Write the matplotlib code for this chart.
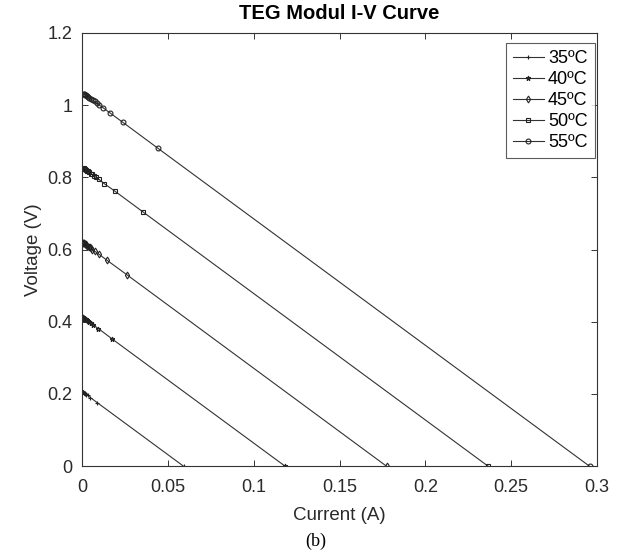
import matplotlib
matplotlib.use("Agg")
import matplotlib.pyplot as plt
from matplotlib.ticker import FuncFormatter

labels = ["35ºC", "40ºC", "45ºC", "50ºC", "55ºC"]

i35 = [0.00021, 0.00026, 0.00034, 0.00041, 0.00051, 0.00068, 0.00082, 0.00102, 0.00127, 0.00144, 0.00168, 0.0020, 0.0025, 0.0033, 0.0048, 0.0088, 0.0591]
v35 = [0.206, 0.206, 0.206, 0.206, 0.205, 0.205, 0.204, 0.203, 0.203, 0.202, 0.201, 0.200, 0.198, 0.196, 0.190, 0.176, 0.0]
i40 = [0.00041, 0.00052, 0.00068, 0.00082, 0.00103, 0.00136, 0.00163, 0.00204, 0.00253, 0.00288, 0.00335, 0.0040, 0.0050, 0.0065, 0.0095, 0.0176, 0.1183]
v40 = [0.412, 0.412, 0.412, 0.411, 0.410, 0.409, 0.408, 0.407, 0.405, 0.404, 0.402, 0.400, 0.397, 0.391, 0.381, 0.352, 0.0]
i45 = [0.00062, 0.00077, 0.00103, 0.00124, 0.00154, 0.00205, 0.00245, 0.00305, 0.00380, 0.00433, 0.00503, 0.0060, 0.0074, 0.0098, 0.0143, 0.0264, 0.1774]
v45 = [0.619, 0.618, 0.617, 0.617, 0.616, 0.614, 0.613, 0.610, 0.608, 0.606, 0.604, 0.600, 0.595, 0.587, 0.571, 0.529, 0.0]
i50 = [0.00082, 0.00103, 0.00137, 0.00165, 0.00206, 0.00273, 0.00326, 0.00407, 0.00506, 0.00577, 0.00670, 0.0080, 0.0099, 0.0130, 0.0190, 0.0352, 0.2366]
v50 = [0.825, 0.824, 0.823, 0.822, 0.821, 0.818, 0.817, 0.814, 0.810, 0.808, 0.805, 0.800, 0.794, 0.782, 0.762, 0.705, 0.0]
i55 = [0.00103, 0.00129, 0.00171, 0.00206, 0.00257, 0.00341, 0.00408, 0.00509, 0.00633, 0.00721, 0.00838, 0.0100, 0.0124, 0.0163, 0.0238, 0.0440, 0.2957]
v55 = [1.031, 1.030, 1.029, 1.028, 1.026, 1.023, 1.021, 1.017, 1.013, 1.010, 1.006, 1.000, 0.992, 0.978, 0.952, 0.881, 0.0]

x_ticks = [0, 0.05, 0.1, 0.15, 0.2, 0.25, 0.3]
y_ticks = [0, 0.2, 0.4, 0.6, 0.8, 1.0, 1.2]

plt.rcParams['font.family'] = ['Liberation Sans', 'DejaVu Sans']

fig = plt.figure(figsize=(6.27, 5.57), dpi=100)
ax = fig.add_axes([0.131, 0.163, 0.821, 0.778])

markers = ['+', '*', 'd', 's', 'o']
series = [(i35, v35), (i40, v40), (i45, v45), (i50, v50), (i55, v55)]
for (xs, ys), m, lab in zip(series, markers, labels):
    ax.plot(xs, ys, color='#333333', linewidth=0.8, marker=m, markersize=3.5,
            markerfacecolor='none', markeredgecolor='#222222', markeredgewidth=0.8,
            label=lab)

ax.set_xlim(0, 0.3)
ax.set_ylim(0, 1.2)
ax.set_xticks(x_ticks)
ax.set_yticks(y_ticks)
fmt = FuncFormatter(lambda v, p: ('%g' % round(v, 3)))
ax.xaxis.set_major_formatter(fmt)
ax.yaxis.set_major_formatter(fmt)
ax.tick_params(direction='in', top=True, right=True, labelsize=13, length=4,
               colors='#333333', labelcolor='#2a2a2a', width=0.7)
ax.tick_params(axis='x', pad=9)
ax.tick_params(axis='y', pad=7)
for s in ax.spines.values():
    s.set_color('#333333')
    s.set_linewidth(0.8)

ax.set_xlabel('Current (A)', fontsize=13.5, color='#2a2a2a', labelpad=8)
ax.set_ylabel('Voltage (V)', fontsize=13.5, color='#2a2a2a', labelpad=4)
ax.set_title('TEG Modul I-V Curve', fontsize=14.5, fontweight='bold', pad=10)

leg = ax.legend(loc='upper right', bbox_to_anchor=(1 - 2 / 515, 1 - 10 / 433),
                borderaxespad=0, fontsize=13, frameon=True, fancybox=False,
                edgecolor='#333333', borderpad=0.4, labelspacing=0.22,
                handlelength=1.7, handletextpad=0.25)
leg.get_frame().set_linewidth(0.8)

fig.text(0.504, 0.012, '(b)', ha='center', va='bottom', fontsize=13,
         family=['Liberation Serif', 'DejaVu Serif'])

fig.savefig('out.png', dpi=100, facecolor='white')
